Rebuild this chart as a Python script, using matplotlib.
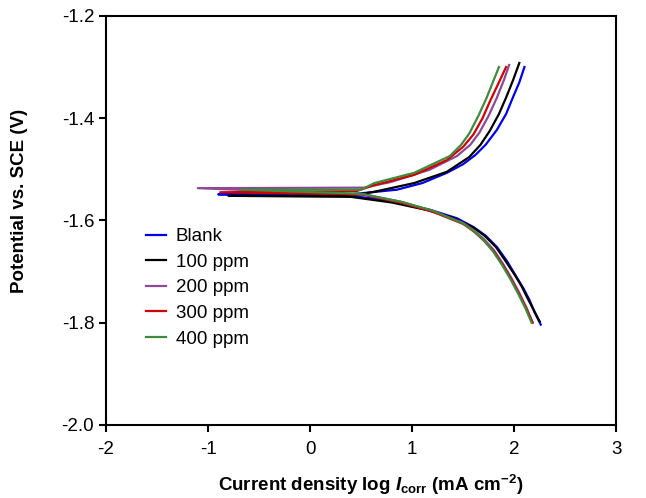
"""
Tafel polarisation curves: blank vs. inhibitor concentrations.
"""

import matplotlib.pyplot as plt

plt.rcParams.update(
    {
        "font.family": "Liberation Sans",
        "font.size": 13.5,
        "mathtext.fontset": "custom",
        "mathtext.rm": "Liberation Sans",
        "mathtext.it": "Liberation Sans:italic",
        "mathtext.bf": "Liberation Sans:bold",
        "mathtext.bfit": "Liberation Sans:bold:italic",
        "axes.linewidth": 1.5,
    }
)

# ── Data (log i in mA cm^-2, potential in V vs. SCE) ─────────────────────────
# each trace: cathodic branch (bottom -> Ecorr), dip at Ecorr, anodic branch

blank_log_i = [2.26, 2.20, 2.15, 2.09, 2.02, 1.93, 1.83, 1.72, 1.60, 1.44, 1.17, 0.80, 0.40,
               -0.90,
               0.40, 0.85, 1.10, 1.34, 1.50, 1.62, 1.72, 1.83, 1.92, 1.99, 2.05, 2.10]
blank_E = [-1.804, -1.780, -1.756, -1.733, -1.710, -1.680, -1.652, -1.630, -1.613, -1.596,
           -1.579, -1.562, -1.552,
           -1.549,
           -1.549, -1.540, -1.527, -1.507, -1.490, -1.472, -1.452, -1.423, -1.392, -1.358,
           -1.330, -1.300]

ppm100_log_i = [2.25, 2.19, 2.13, 2.07, 2.00, 1.91, 1.82, 1.71, 1.60, 1.40, 1.15, 0.80, 0.40,
                -0.80,
                0.40, 0.63, 1.02, 1.34, 1.56, 1.67, 1.76, 1.85, 1.92, 1.99, 2.05]
ppm100_E = [-1.798, -1.775, -1.752, -1.728, -1.705, -1.678, -1.652, -1.630, -1.614, -1.595,
            -1.580, -1.565, -1.554,
            -1.552,
            -1.552, -1.544, -1.527, -1.505, -1.476, -1.452, -1.425, -1.392, -1.360, -1.325,
            -1.292]

ppm200_log_i = [2.18, 2.12, 2.05, 1.97, 1.89, 1.80, 1.70, 1.60, 1.50, 1.20, 0.90, 0.55,
                -1.10,
                0.53, 0.79, 1.17, 1.44, 1.57, 1.66, 1.75, 1.83, 1.90, 1.95]
ppm200_E = [-1.800, -1.771, -1.742, -1.712, -1.685, -1.658, -1.636, -1.619, -1.605, -1.582,
            -1.564, -1.550,
            -1.537,
            -1.536, -1.525, -1.501, -1.474, -1.452, -1.428, -1.395, -1.360, -1.325, -1.296]

ppm300_log_i = [2.18, 2.12, 2.05, 1.97, 1.89, 1.80, 1.70, 1.60, 1.50, 1.20, 0.90, 0.50,
                -0.88,
                0.45, 0.63, 1.02, 1.34, 1.50, 1.60, 1.69, 1.76, 1.85, 1.92]
ppm300_E = [-1.800, -1.773, -1.745, -1.715, -1.688, -1.661, -1.639, -1.621, -1.607, -1.583,
            -1.566, -1.549,
            -1.545,
            -1.543, -1.531, -1.511, -1.482, -1.456, -1.432, -1.400, -1.368, -1.330, -1.300]

ppm400_log_i = [2.17, 2.11, 2.04, 1.96, 1.88, 1.79, 1.70, 1.60, 1.50, 1.20, 0.90, 0.50,
                -0.68,
                0.50, 0.63, 1.02, 1.37, 1.48, 1.56, 1.65, 1.73, 1.80, 1.85]
ppm400_E = [-1.800, -1.772, -1.744, -1.714, -1.687, -1.660, -1.638, -1.620, -1.606, -1.581,
            -1.564, -1.548,
            -1.540,
            -1.540, -1.527, -1.507, -1.474, -1.452, -1.430, -1.395, -1.360, -1.325, -1.300]

labels = ["Blank", "100 ppm", "200 ppm", "300 ppm", "400 ppm"]
colors = ["#0000ee", "#000000", "#8b4a93", "#d00000", "#3f8a3f"]
series = [
    (blank_log_i, blank_E),
    (ppm100_log_i, ppm100_E),
    (ppm200_log_i, ppm200_E),
    (ppm300_log_i, ppm300_E),
    (ppm400_log_i, ppm400_E),
]

x_ticks = [-2, -1, 0, 1, 2, 3]
y_ticks = [-2.0, -1.8, -1.6, -1.4, -1.2]

# ── Plot ─────────────────────────────────────────────────────────────────────

fig = plt.figure(figsize=(6.46, 4.98), dpi=100)
ax = fig.add_axes([0.164, 0.147, 0.790, 0.821])

for (x, y), label, color in zip(series, labels, colors):
    ax.plot(x, y, color=color, linewidth=1.6, label=label)

ax.set_xlim(-2, 3)
ax.set_ylim(-2.0, -1.2)
ax.set_xticks(x_ticks)
ax.set_xticklabels([str(t) for t in x_ticks])
ax.set_yticks(y_ticks)
ax.set_yticklabels([f"{t:.1f}" for t in y_ticks])
ax.tick_params(axis="x", pad=7)
ax.tick_params(direction="out", length=5, width=1.5, labelsize=13.5)

ax.set_xlabel(
    r"Current density log $\mathbfit{I}_{\mathregular{corr}}$ (mA cm$^{\mathbf{-2}}$)",
    fontweight="bold",
    fontsize=13.5,
)
ax.set_ylabel("Potential vs. SCE (V)", fontweight="bold", fontsize=13.5)
ax.xaxis.set_label_coords(0.518, -0.117)
ax.yaxis.set_label_coords(-0.153, 0.548)

ax.legend(
    loc="upper left",
    bbox_to_anchor=(0.045, 0.522),
    frameon=False,
    fontsize=13.5,
    handlelength=1.1,
    handletextpad=0.5,
    labelspacing=0.45,
)

fig.savefig("out.png", dpi=100)
